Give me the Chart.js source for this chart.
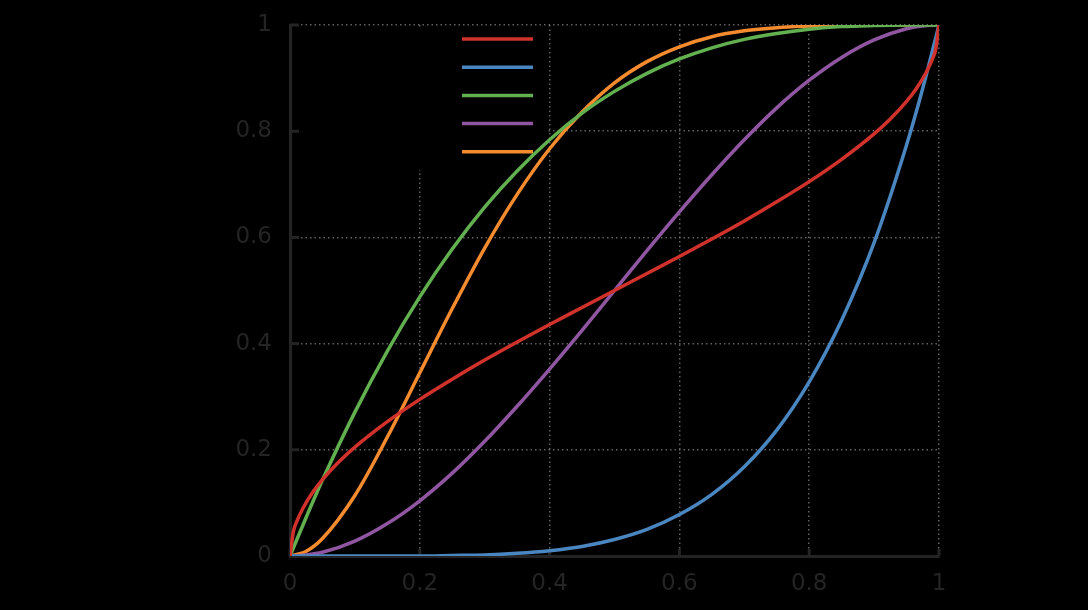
<!DOCTYPE html>
<html>
<head>
<meta charset="utf-8">
<script src="https://cdn.jsdelivr.net/npm/chart.js@4"></script>
<style>
  html, body { margin: 0; padding: 0; background: #000; }
  #wrap { width: 1088px; height: 610px; position: relative; }
</style>
</head>
<body>
<div id="wrap"><canvas id="cdf"></canvas></div>
<script>
// x positions shared by most curves
const xs = [0, 0.025, 0.05, 0.1, 0.15, 0.2, 0.25, 0.3, 0.35, 0.4, 0.45, 0.5,
            0.55, 0.6, 0.65, 0.7, 0.75, 0.8, 0.85, 0.9, 0.95, 0.975, 1];

const blueY   = [0, 0, 0, 0, 0, 0, 0.001, 0.002, 0.005, 0.010, 0.018, 0.031,
                 0.050, 0.078, 0.116, 0.168, 0.237, 0.328, 0.444, 0.590, 0.774, 0.881, 1];
const greenY  = [0, 0.073, 0.143, 0.271, 0.386, 0.488, 0.578, 0.657, 0.725, 0.784, 0.834, 0.875,
                 0.909, 0.936, 0.957, 0.973, 0.984, 0.992, 0.997, 0.999, 1, 1, 1];
const purpleY = [0, 0.002, 0.007, 0.028, 0.061, 0.104, 0.156, 0.216, 0.282, 0.352, 0.425, 0.5,
                 0.575, 0.648, 0.718, 0.784, 0.844, 0.896, 0.939, 0.972, 0.993, 0.998, 1];
const orangeY = [0, 0.009, 0.033, 0.114, 0.224, 0.345, 0.466, 0.580, 0.681, 0.767, 0.836, 0.891,
                 0.931, 0.959, 0.978, 0.989, 0.995, 0.998, 1, 1, 1, 1, 1];

// red curve is steep at both ends, so it gets its own denser x list
const redX = [0, 0.005, 0.01, 0.02, 0.035, 0.05, 0.075, 0.1, 0.15, 0.2, 0.25, 0.3, 0.35, 0.4, 0.45, 0.5,
              0.55, 0.6, 0.65, 0.7, 0.75, 0.8, 0.85, 0.9, 0.925, 0.95, 0.965, 0.98, 0.99, 0.995, 1];
const redY = [0, 0.045, 0.064, 0.090, 0.120, 0.144, 0.177, 0.205, 0.253, 0.295, 0.333, 0.369, 0.403, 0.436, 0.468, 0.5,
              0.532, 0.564, 0.597, 0.631, 0.667, 0.705, 0.747, 0.795, 0.823, 0.856, 0.880, 0.910, 0.936, 0.955, 1];

const seriesNames = ['α = β = 0.5', 'α = 5, β = 1', 'α = 1, β = 3', 'α = 2, β = 2', 'α = 2, β = 5'];
const seriesColors = ['#d1322b', '#4a86c0', '#62b050', '#9056a2', '#f48b2e'];

const tickValues = [0, 0.2, 0.4, 0.6, 0.8, 1];
const tickLabels = ['0', '0.2', '0.4', '0.6', '0.8', '1'];

function zip(xArr, yArr) {
  return xArr.map((x, i) => ({ x: x, y: yArr[i] }));
}

const allY = [redY, blueY, greenY, purpleY, orangeY];
const datasets = allY.map((ys, i) => ({
  label: seriesNames[i],
  data: i === 0 ? zip(redX, ys) : zip(xs, ys),
  borderColor: seriesColors[i],
  backgroundColor: seriesColors[i],
  borderWidth: 3.5,
  pointRadius: 0,
  fill: false,
  cubicInterpolationMode: 'monotone'
}));

const axisColor = '#242424';

// opaque key box + line samples, and the inward tick marks
const keyAndTicks = {
  id: 'keyAndTicks',
  beforeDatasetsDraw(chart) {
    const ctx = chart.ctx;
    const xs_ = chart.scales.x, ys_ = chart.scales.y;
    const area = chart.chartArea;
    ctx.save();
    // key box masks the grid
    ctx.fillStyle = '#000';
    ctx.fillRect(area.left + 2, area.top + 3, 256, 142);
    // sample lines
    ctx.lineWidth = 3.5;
    chart.data.datasets.forEach((ds, i) => {
      const y = area.top + 14 + i * 28.2;
      ctx.strokeStyle = ds.borderColor;
      ctx.beginPath();
      ctx.moveTo(462, y);
      ctx.lineTo(533, y);
      ctx.stroke();
    });
    // inward ticks
    ctx.strokeStyle = axisColor;
    ctx.lineWidth = 3;
    tickValues.forEach(v => {
      const py = ys_.getPixelForValue(v);
      ctx.beginPath();
      ctx.moveTo(area.left, py);
      ctx.lineTo(area.left + 9, py);
      ctx.stroke();
      const px = xs_.getPixelForValue(v);
      ctx.beginPath();
      ctx.moveTo(px, area.bottom);
      ctx.lineTo(px, area.bottom - 7);
      ctx.stroke();
    });
    ctx.restore();
  }
};

const tickFont = { family: 'DejaVu Sans', size: 23 };
const fmt = (value) => tickLabels[tickValues.findIndex(v => Math.abs(v - value) < 1e-6)];

new Chart(document.getElementById('cdf').getContext('2d'), {
  type: 'line',
  data: { datasets: datasets },
  options: {
    responsive: true,
    maintainAspectRatio: false,
    animation: false,
    layout: { padding: { left: 0, top: 25, right: 149, bottom: 0 } },
    plugins: {
      legend: { display: false },
      tooltip: { enabled: false }
    },
    scales: {
      x: {
        type: 'linear',
        min: 0,
        max: 1,
        afterFit: s => { s.height = 54; s.paddingLeft = 0; s.paddingRight = 0; },
        afterBuildTicks: s => { s.ticks = tickValues.map(v => ({ value: v })); },
        ticks: { color: axisColor, font: tickFont, padding: 14, maxRotation: 0, callback: fmt },
        grid: { color: 'rgba(130,130,130,0.75)', lineWidth: 1.5, drawTicks: false },
        border: { display: true, color: axisColor, width: 3, dash: [1.5, 3] }
      },
      y: {
        type: 'linear',
        min: 0,
        max: 1,
        afterFit: s => { s.width = 290; s.paddingTop = 0; s.paddingBottom = 0; },
        afterBuildTicks: s => { s.ticks = tickValues.map(v => ({ value: v })); },
        ticks: { color: axisColor, font: tickFont, padding: 18, callback: fmt },
        grid: { color: 'rgba(130,130,130,0.75)', lineWidth: 1.5, drawTicks: false },
        border: { display: true, color: axisColor, width: 3, dash: [1.5, 3] }
      }
    }
  },
  plugins: [keyAndTicks]
});
</script>
</body>
</html>
